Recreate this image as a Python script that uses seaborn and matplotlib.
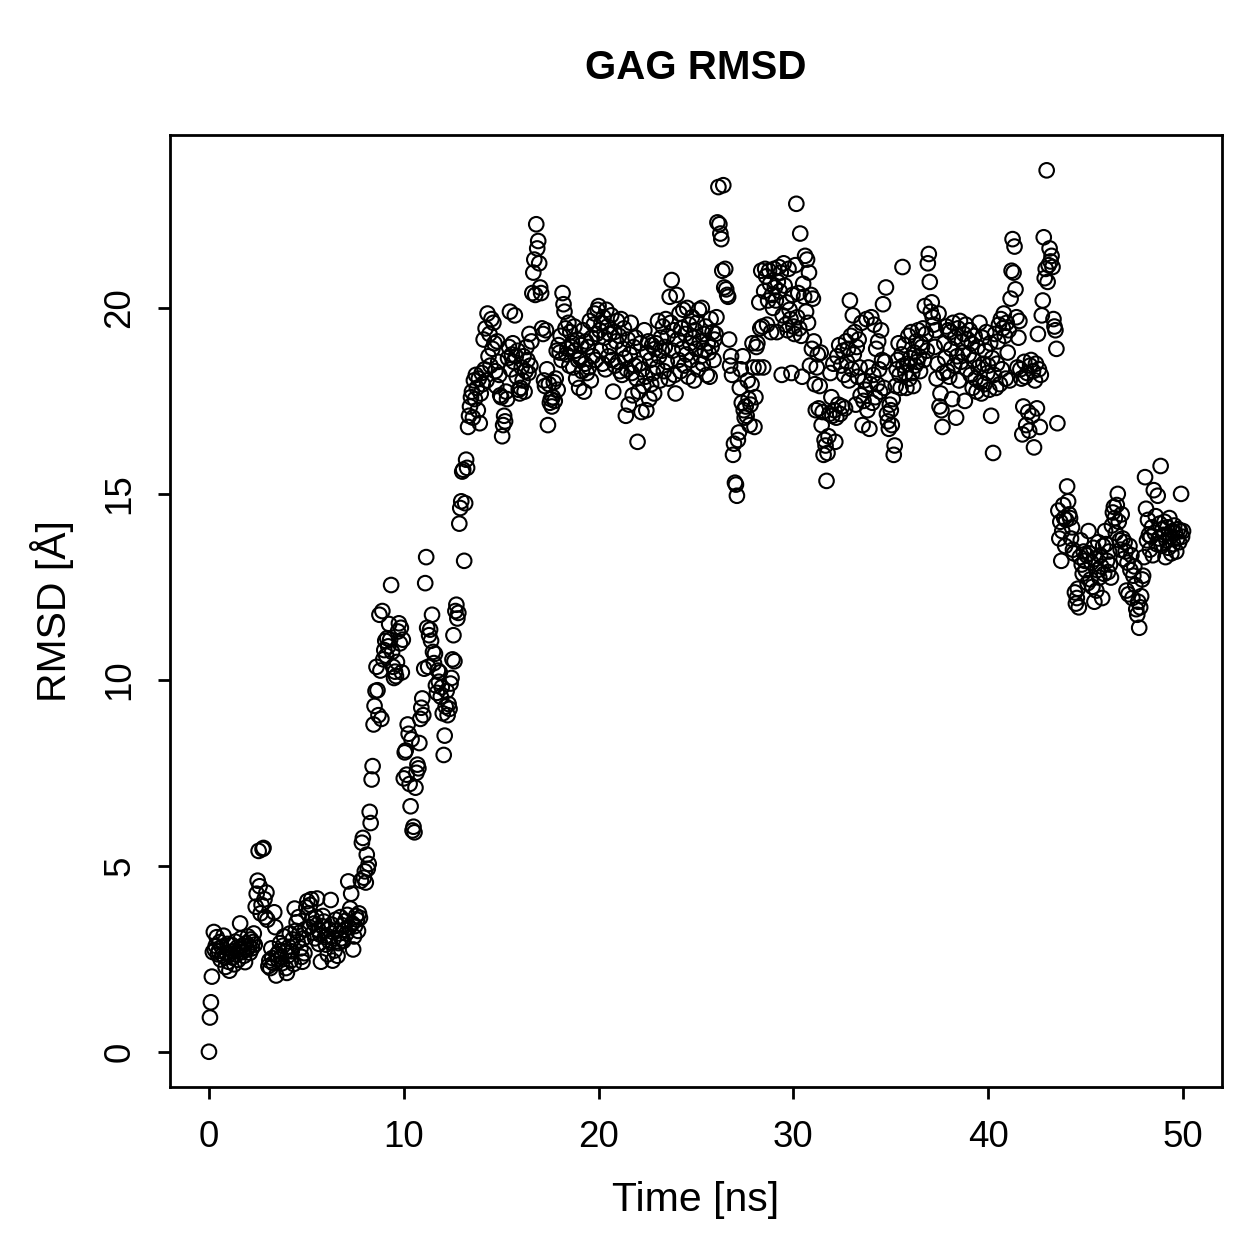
import matplotlib
matplotlib.use('Agg')
import matplotlib.pyplot as plt
import seaborn as sns
import pandas as pd
import numpy as np

# RMSD (Angstrom), un frame ogni 0.05 ns, una riga per ns
rmsd_rows = [
    [0.00, 0.92, 1.33, 2.02, 2.68, 3.22, 2.74, 2.85, 3.08, 2.62, 2.71, 2.95, 2.48, 2.82, 2.60, 3.12, 2.55, 2.28, 2.66, 2.90],
    [2.42, 2.18, 2.64, 2.88, 2.53, 2.70, 2.35, 2.96, 2.61, 2.80, 2.47, 2.74, 3.45, 3.05, 2.68, 2.86, 2.58, 2.41, 2.92, 2.75],
    [3.10, 2.84, 2.66, 3.02, 2.78, 2.95, 3.18, 2.88, 3.90, 4.25, 4.60, 5.40, 4.45, 3.72, 3.95, 5.45, 5.48, 4.10, 3.62, 4.28],
    [3.55, 2.30, 2.45, 2.25, 2.78, 2.52, 2.38, 3.75, 3.35, 2.05, 2.62, 2.48, 2.70, 2.92, 2.55, 2.38, 2.85, 3.10, 2.68, 2.25],
    [2.12, 2.58, 2.82, 3.18, 2.45, 2.70, 3.02, 2.36, 3.85, 3.25, 3.48, 2.95, 3.62, 3.20, 2.78, 2.55, 2.42, 3.05, 2.65, 3.30],
    [3.88, 4.05, 3.72, 3.35, 3.95, 4.10, 3.58, 3.20, 3.45, 3.05, 3.62, 4.12, 3.28, 2.90, 3.15, 2.42, 3.38, 3.65, 3.50, 3.08],
    [2.88, 3.12, 2.62, 3.30, 2.95, 4.08, 3.42, 2.45, 3.05, 2.72, 3.55, 3.25, 2.58, 2.92, 3.18, 3.62, 3.05, 3.40, 2.98, 3.28],
    [3.52, 3.18, 3.68, 4.58, 3.35, 3.85, 4.25, 3.45, 2.75, 3.10, 3.38, 3.65, 3.55, 3.25, 3.72, 3.60, 4.60, 5.62, 5.75, 4.68],
    [4.85, 4.55, 5.30, 4.92, 5.05, 6.45, 6.15, 7.32, 7.68, 8.80, 9.30, 9.70, 10.35, 9.72, 9.05, 11.75, 10.25, 8.95, 11.85, 10.55],
    [10.80, 11.05, 10.65, 11.12, 10.90, 11.50, 11.08, 12.55, 10.75, 10.35, 10.05, 10.22, 10.10, 10.48, 11.30, 11.52, 10.98, 11.40, 10.20, 11.08],
    [7.35, 8.05, 8.10, 7.45, 8.80, 8.55, 7.20, 6.60, 8.40, 5.95, 6.05, 5.90, 7.10, 7.50, 7.72, 7.62, 8.30, 8.95, 9.25, 9.50],
    [9.05, 10.30, 12.60, 13.30, 11.40, 10.35, 11.20, 11.35, 11.05, 11.75, 10.75, 10.45, 10.70, 9.85, 9.65, 10.25, 9.95, 10.20, 9.55, 9.80],
    [9.10, 7.98, 8.50, 9.28, 9.70, 9.05, 9.35, 9.22, 9.90, 10.05, 10.55, 11.20, 10.50, 11.85, 12.02, 11.65, 11.80, 14.20, 14.62, 14.80],
    [15.60, 15.65, 13.20, 14.75, 15.92, 15.70, 16.80, 17.10, 17.35, 17.60, 17.75, 17.05, 18.05, 17.55, 18.20, 17.85, 17.25, 18.10, 16.90, 17.70],
    [18.25, 17.95, 19.15, 18.35, 19.45, 18.05, 19.85, 18.70, 19.30, 18.45, 19.70, 18.90, 19.60, 19.05, 18.30, 17.90, 19.10, 18.55, 18.20, 17.65],
    [17.60, 16.55, 16.85, 17.10, 16.95, 17.75, 17.55, 18.65, 18.95, 19.90, 18.35, 18.75, 19.05, 18.55, 19.80, 18.70, 18.15, 18.85, 17.80, 17.70],
    [17.85, 18.40, 18.05, 18.70, 17.75, 18.30, 18.95, 18.60, 18.25, 19.30, 18.45, 19.10, 20.40, 20.95, 21.30, 20.35, 22.25, 21.60, 21.80, 21.20],
    [20.55, 20.40, 19.45, 19.30, 18.05, 17.90, 19.40, 18.35, 16.85, 17.95, 17.45, 17.55, 17.35, 17.60, 18.00, 17.50, 18.10, 18.85, 17.80, 19.00],
    [18.80, 19.25, 18.60, 20.40, 20.10, 19.90, 19.45, 18.75, 18.90, 19.60, 18.45, 19.35, 18.95, 19.05, 18.40, 19.50, 18.85, 18.10, 19.15, 18.60],
    [17.85, 18.65, 19.00, 18.30, 19.40, 17.75, 18.50, 19.10, 18.25, 18.95, 18.40, 19.65, 18.05, 19.20, 18.70, 19.55, 19.85, 18.60, 19.30, 19.95],
    [20.05, 19.40, 18.85, 19.60, 18.50, 19.75, 19.20, 18.35, 19.95, 19.50, 18.70, 19.30, 18.95, 19.80, 18.60, 17.75, 19.35, 18.45, 19.10, 19.65],
    [18.55, 19.25, 18.30, 19.70, 18.20, 18.90, 19.45, 18.65, 17.10, 18.35, 19.15, 17.40, 18.75, 19.60, 18.25, 17.65, 18.95, 18.45, 19.20, 18.10],
    [16.40, 17.75, 18.50, 19.05, 17.20, 18.35, 17.90, 19.40, 18.15, 17.25, 18.80, 19.10, 17.55, 18.60, 17.95, 19.00, 18.25, 17.70, 18.90, 19.05],
    [18.40, 19.65, 18.70, 18.05, 19.20, 18.85, 19.50, 18.30, 18.95, 19.70, 18.55, 19.25, 18.10, 20.30, 19.60, 20.75, 18.85, 19.40, 18.20, 17.70],
    [20.35, 19.15, 18.60, 19.85, 18.30, 19.45, 18.90, 19.95, 18.45, 19.30, 18.75, 20.00, 18.15, 19.55, 19.05, 18.60, 19.75, 19.20, 18.05, 19.40],
    [18.90, 19.60, 18.35, 19.95, 19.10, 18.70, 20.00, 18.50, 19.30, 18.85, 19.50, 18.20, 19.05, 18.80, 18.15, 19.70, 18.95, 19.35, 18.60, 19.15],
    [19.30, 19.75, 22.30, 23.25, 22.25, 22.00, 21.85, 21.00, 23.30, 20.55, 21.05, 20.50, 20.35, 20.30, 19.15, 18.45, 18.70, 18.20, 16.05, 16.35],
    [15.30, 15.25, 14.95, 16.45, 16.65, 17.85, 18.35, 17.45, 18.70, 17.25, 17.05, 17.35, 17.10, 18.05, 17.55, 16.85, 17.40, 17.95, 19.05, 18.40],
    [16.80, 17.60, 18.95, 19.05, 18.40, 20.15, 19.45, 21.00, 19.50, 18.40, 20.45, 21.05, 20.85, 19.55, 20.20, 21.00, 20.65, 19.35, 20.35, 20.00],
    [21.05, 20.55, 20.20, 19.35, 20.70, 21.10, 20.45, 20.95, 18.20, 19.80, 21.20, 20.60, 19.55, 20.15, 19.40, 21.05, 19.95, 19.70, 18.25, 20.35],
    [19.50, 19.30, 21.15, 22.80, 19.75, 20.40, 19.45, 22.00, 19.25, 18.15, 20.65, 20.30, 21.40, 19.90, 21.30, 19.60, 20.95, 18.45, 20.35, 18.90],
    [20.25, 19.10, 17.95, 17.25, 18.40, 18.75, 17.30, 17.90, 18.80, 16.85, 17.20, 16.05, 16.45, 16.30, 15.35, 16.10, 16.55, 17.15, 18.25, 17.60],
    [17.10, 18.50, 17.25, 16.40, 17.05, 18.70, 17.40, 19.00, 17.15, 18.45, 17.35, 18.85, 18.20, 17.30, 19.10, 18.55, 18.90, 18.05, 20.20, 19.25],
    [18.35, 19.80, 18.75, 19.35, 17.40, 18.95, 18.15, 19.15, 18.40, 17.65, 19.60, 16.85, 17.50, 18.05, 17.80, 19.70, 17.25, 18.40, 16.75, 17.95],
    [19.75, 17.45, 18.20, 19.55, 17.60, 18.90, 17.95, 19.10, 18.35, 17.75, 19.40, 18.60, 20.10, 17.85, 18.55, 20.55, 17.15, 16.95, 16.75, 17.40],
    [17.25, 16.85, 17.55, 16.05, 16.30, 17.90, 18.35, 18.60, 19.05, 18.20, 17.85, 18.75, 21.10, 18.45, 19.00, 18.25, 17.85, 18.50, 19.25, 18.10],
    [18.65, 19.35, 18.25, 17.90, 18.80, 18.45, 19.10, 18.55, 19.40, 18.70, 18.30, 19.05, 18.95, 19.45, 18.60, 20.05, 19.30, 18.85, 21.20, 21.45],
    [20.70, 19.90, 20.15, 19.75, 19.55, 18.95, 19.40, 18.10, 18.50, 19.85, 17.35, 17.70, 17.25, 16.80, 18.25, 19.05, 18.65, 19.50, 18.30, 19.40],
    [18.15, 19.35, 18.90, 17.55, 19.60, 18.45, 19.20, 17.05, 18.70, 19.45, 18.05, 19.65, 18.55, 19.10, 18.80, 19.30, 17.50, 19.55, 18.35, 19.15],
    [18.75, 19.40, 18.20, 19.05, 17.85, 18.60, 19.25, 18.10, 17.75, 18.95, 18.40, 19.60, 18.00, 17.70, 19.20, 18.50, 17.95, 18.85, 19.35, 18.25],
    [18.45, 17.80, 19.05, 17.10, 18.65, 16.10, 18.20, 19.30, 17.85, 18.50, 19.10, 19.55, 17.95, 19.70, 18.35, 19.45, 19.85, 19.25, 18.10, 19.60],
    [18.80, 19.40, 18.05, 20.25, 21.00, 21.85, 20.95, 21.65, 20.50, 19.75, 18.40, 19.20, 19.65, 18.35, 18.10, 16.60, 17.35, 18.55, 18.15, 16.85],
    [18.25, 17.20, 16.70, 18.45, 18.60, 17.10, 18.30, 16.25, 18.05, 18.50, 17.30, 19.30, 18.35, 16.80, 18.20, 19.80, 20.20, 21.90, 20.80, 21.05],
    [23.70, 20.70, 21.15, 21.60, 21.25, 21.40, 21.10, 19.70, 19.50, 19.40, 18.90, 16.90, 14.55, 13.80, 14.25, 13.20, 14.00, 14.70, 14.35, 13.60],
    [14.30, 15.20, 14.80, 14.45, 14.35, 13.80, 14.10, 13.50, 13.40, 12.35, 12.05, 12.20, 12.45, 11.95, 13.30, 13.75, 13.10, 12.85, 13.45, 13.20],
    [12.95, 13.35, 12.60, 14.00, 13.40, 12.70, 13.15, 12.50, 13.55, 12.10, 13.25, 12.40, 12.95, 13.70, 12.75, 13.35, 13.05, 12.20, 13.60, 12.85],
    [14.00, 13.65, 13.20, 12.90, 13.45, 13.10, 12.75, 14.15, 14.50, 14.65, 14.35, 13.95, 14.70, 15.00, 14.25, 13.75, 13.50, 14.45, 13.80, 13.25],
    [13.70, 13.45, 12.40, 13.15, 12.30, 13.60, 12.95, 13.35, 12.20, 12.80, 13.05, 12.55, 11.90, 11.75, 12.10, 11.40, 11.95, 12.25, 12.70, 12.80],
    [13.30, 15.45, 14.60, 13.75, 14.30, 13.90, 13.50, 13.85, 14.10, 13.35, 15.10, 13.95, 14.40, 13.65, 14.95, 13.80, 14.20, 15.75, 13.60, 14.05],
    [13.90, 14.25, 13.30, 13.75, 14.10, 13.55, 14.35, 13.85, 13.40, 14.00, 13.65, 14.15, 13.95, 13.45, 13.80, 14.05, 13.70, 14.00, 15.00, 13.85],
    [14.00],
]
rmsd = [v for row in rmsd_rows for v in row]
# tempo dei frame (ns), da 0 a 50
time_ns = np.linspace(0, 50, len(rmsd))

df = pd.DataFrame({'time': time_ns, 'rmsd': rmsd})

x_ticks = [0, 10, 20, 30, 40, 50]
y_ticks = [0, 5, 10, 15, 20]

sns.set_style('ticks')
plt.rcParams['font.family'] = ['Liberation Sans', 'DejaVu Sans']
plt.rcParams['text.color'] = 'black'

fig = plt.figure(figsize=(12.59, 12.59), dpi=100)
ax = fig.add_axes([170/1259, 1 - 1087/1259, (1222-170)/1259, (1087-135)/1259])

sns.scatterplot(data=df, x='time', y='rmsd', ax=ax, marker='o', s=110,
                facecolor='none', edgecolor='black', linewidth=1.5)

ax.set_xlim(-2, 52)
ax.set_ylim(-0.948, 24.65)
ax.set_xticks(x_ticks)
ax.set_yticks(y_ticks)
ax.set_xlabel('')
ax.set_ylabel('')

for s in ax.spines.values():
    s.set_visible(True)
    s.set_linewidth(2.0)
    s.set_color('black')
ax.tick_params(axis='both', direction='out', length=8.5, width=2.0, labelsize=26.5,
               colors='black', labelcolor='black')
ax.tick_params(axis='x', pad=15)
ax.tick_params(axis='y', pad=15, labelrotation=90)
for lab in ax.get_yticklabels():
    lab.set_va('center')

fig.text(696/1259, 1 - 1200/1259, 'Time [ns]', ha='center', va='center', fontsize=29.5, color='black')
fig.text(52/1259, 1 - 611/1259, 'RMSD [Å]', ha='center', va='center', fontsize=29.5, rotation=90, color='black')
fig.text(696/1259, 1 - 68/1259, 'GAG RMSD', ha='center', va='center', fontsize=29, fontweight='bold', color='black')

fig.savefig('out.png', dpi=100)
